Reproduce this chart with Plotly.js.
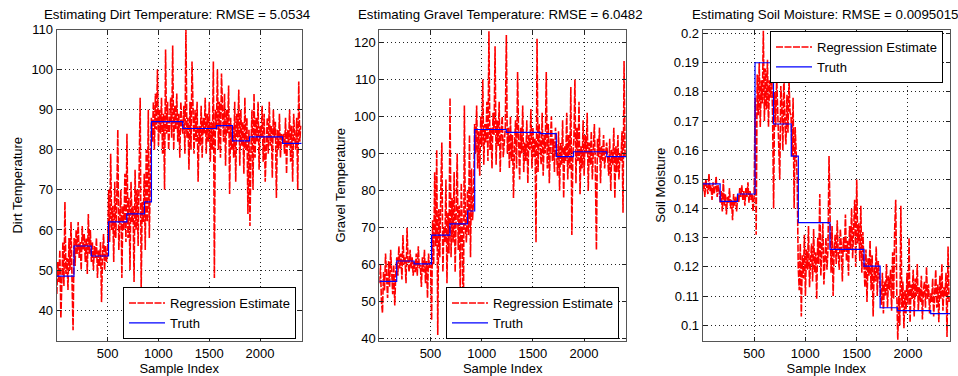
<!DOCTYPE html>
<html>
<head>
<meta charset="utf-8">
<script src="https://cdn.plot.ly/plotly-3.0.1.min.js"></script>
<style>
html,body{margin:0;padding:0;background:#fff;}
#chart{width:958px;height:376px;}
</style>
</head>
<body>
<div id="chart"></div>
<script>
// Sample index of every estimate shown (one every 10 samples)
const sampleStep = 10;

// Regression estimates (one value per 10 samples)
const dirtEstimate = [
44,52,47,55,38,50,57,46,67,49,53,45,58,50,62,47,35,
58,51,60,54,62,53,57,50,61,55,59,52,58,49,64,54,60,
52,57,50,56,53,58,48,55,51,57,42,54,59,50,56,52,55,
70,57,79,60,66,52,72,58,68,85,55,64,70,48,66,60,74,57,
84,58,68,50,72,62,66,47,75,60,70,56,80,93,45,67,62,
74,55,80,62,90,58,72,
88,82,92,80,94,85,100,81,90,84,93,79,89,70,105,84,92,80,88,93,83,106,80,91,85,94,82,89,78,92,86,
84,91,79,110,83,88,75,92,80,102,85,79,90,82,92,72,86,81,91,78,88,84,93,79,89,82,92,77,87,80,102,48,90,
85,100,80,92,78,99,86,82,94,76,90,84,96,69,88,80,
86,78,92,72,89,83,95,76,90,81,87,74,93,80,88,64,85,
61,80,90,70,94,78,88,82,92,75,86,83,91,77,89,72,84,88,79,92,81,86,73,90,83,87,68,85,80,89,78,84,82,
84,79,88,74,85,81,90,77,86,72,89,83,80,88,70,97,82,86
];

const gravelEstimate = [
55,60,50,47,58,53,63,56,51,61,54,64,57,52,60,49,58,
62,57,65,59,63,56,68,60,62,55,70,61,58,64,59,62,57,
61,58,63,57,65,59,60,54,62,58,64,55,61,51,63,59,60,
45,72,60,85,65,91,41,75,62,80,93,58,70,66,83,55,74,63,
105,62,78,66,85,58,72,90,64,76,52,82,68,40,103,70,66,
80,68,95,62,86,72,78,
98,90,103,86,96,84,100,92,110,87,98,93,104,88,123,91,97,86,101,95,119,87,99,92,104,85,96,100,89,94,97,
122,90,97,86,100,88,95,78,92,99,86,112,94,83,97,90,103,85,93,88,99,82,95,91,102,86,97,89,94,66,121,85,98,92,87,101,84,95,90,112,86,98,82,93,100,88,94,85,97,
91,84,96,80,93,87,99,78,92,88,101,83,95,86,108,68,90,
94,110,82,97,88,104,79,92,86,99,84,95,90,101,80,93,87,96,83,91,98,85,64,94,89,97,82,92,88,95,86,90,93,
89,84,94,80,91,87,97,78,92,85,95,83,90,88,96,74,115,89
];

const soilEstimate = [
0.146,0.149,0.144,0.150,0.147,0.145,0.152,0.146,0.148,0.143,0.149,0.145,0.147,0.151,0.144,0.148,0.146,
0.142,0.146,0.139,0.150,0.141,0.145,0.138,0.144,0.142,0.147,0.140,0.143,0.136,0.145,0.141,0.144,0.139,
0.145,0.142,0.147,0.144,0.148,0.143,0.146,0.141,0.147,0.144,0.149,0.142,0.146,0.143,0.145,0.139,0.144,
0.178,0.131,0.186,0.172,0.190,0.168,0.184,0.176,0.201,0.170,0.188,0.174,0.191,0.168,0.184,0.178,0.190,0.172,
0.140,0.180,0.168,0.185,0.172,0.165,0.150,0.182,0.176,0.160,0.186,0.170,0.162,0.179,0.166,0.184,0.173,
0.172,0.158,0.178,0.140,0.168,0.158,0.150,
0.120,0.112,0.128,0.103,0.124,0.116,0.131,0.110,0.126,0.119,0.134,0.113,0.122,0.128,0.115,0.133,0.118,0.125,0.109,0.130,0.121,0.145,0.117,0.127,0.135,0.114,0.124,0.130,0.119,0.126,0.158,
0.128,0.118,0.134,0.110,0.126,0.131,0.121,0.136,0.124,0.119,0.133,0.127,0.115,0.130,0.125,0.138,0.122,0.129,0.117,0.134,0.126,0.140,0.123,0.131,0.143,0.120,0.150,0.128,0.135,0.122,0.141,0.118,0.132,
0.121,0.113,0.126,0.108,0.123,0.117,0.129,0.112,0.124,0.103,0.120,0.115,0.127,0.110,0.122,0.116,
0.113,0.107,0.118,0.104,0.115,0.110,0.121,0.106,0.117,0.112,0.119,0.105,0.125,0.109,0.133,0.143,0.112,
0.095,0.110,0.100,0.141,0.106,0.115,0.099,0.112,0.104,0.118,0.107,0.130,0.101,0.114,0.109,0.119,0.103,0.116,0.110,0.121,0.105,0.113,0.108,0.117,0.102,0.112,0.115,0.106,0.120,0.109,0.114,0.104,0.111,
0.108,0.116,0.103,0.112,0.119,0.106,0.114,0.101,0.117,0.109,0.121,0.105,0.113,0.110,0.118,0.096,0.127,0.108
];

// Truth: piecewise-constant levels, starting sample of each level
const truthStart = [1,170,340,510,690,863,932,1240,1572,1729,1897,2222,2410];
const dirtTruth   = [48.5,56,53.5,62,64,67,87,85.3,86,82.2,83.2,81.6,81.6];
const gravelTruth = [55.5,61,60.2,68,71,74.5,96.5,95.7,95.4,89.2,90.5,89.2,89.2];
const soilTruth   = [0.1485,0.1425,0.145,0.19,0.169,0.158,0.1352,0.126,0.1203,0.106,0.105,0.104,0.104];

const titles = [
  'Estimating Dirt Temperature: RMSE = 5.0534',
  'Estimating Gravel Temperature: RMSE = 6.0482',
  'Estimating Soil Moisture: RMSE = 0.0095015'
];
const yTitles = ['Dirt Temperature','Gravel Temperature','Soil Moisture'];
const xTitle = 'Sample Index';
const xTicks = [500,1000,1500,2000];
const yTicks1 = [40,50,60,70,80,90,100,110];
const yTicks2 = [40,50,60,70,80,90,100,110,120];
const yTicks3 = [0.1,0.11,0.12,0.13,0.14,0.15,0.16,0.17,0.18,0.19,0.2];

const sampleX = dirtEstimate.map((_, i) => 1 + i * sampleStep);

const FONT = 'Liberation Sans, Arial, Helvetica, sans-serif';
const FS = 13;
const estLine = {color:'#ff0000', width:1.6, dash:'7px,1.5px'};
const truthLine = {color:'#0000ff', width:1.2, shape:'hv'};

const series = [
  {est: dirtEstimate, truth: dirtTruth},
  {est: gravelEstimate, truth: gravelTruth},
  {est: soilEstimate, truth: soilTruth}
];
const traces = [];
series.forEach((s, k) => {
  const sfx = k === 0 ? '' : String(k + 1);
  traces.push({x: sampleX, y: s.est, type:'scatter', mode:'lines', name:'Regression Estimate',
    line: estLine, xaxis:'x'+sfx, yaxis:'y'+sfx, legend:'legend'+sfx, hoverinfo:'skip'});
  traces.push({x: truthStart, y: s.truth, type:'scatter', mode:'lines', name:'Truth',
    line: truthLine, xaxis:'x'+sfx, yaxis:'y'+sfx, legend:'legend'+sfx, hoverinfo:'skip'});
});

const W = 958, H = 376;
const xDom = [[56.7,301.7],[379.3,626],[702.7,950]].map(d => [d[0]/W, d[1]/W]);
const yDom = [1 - 341/H, 1 - 29.5/H];
const titleCenters = [176.7, 500, 824.5];

function xAxis(i){
  return {domain: xDom[i], range:[0,2410], anchor: i===0?'y':'y'+(i+1),
    tickvals: xTicks, ticks:'inside', ticklen:4, tickcolor:'#222',
    showline:true, linecolor:'#555', linewidth:1, mirror:'ticks',
    showgrid:true, gridcolor:'#222', gridwidth:1, griddash:'1px,3px', zeroline:false,
    tickfont:{family:FONT, size:FS, color:'#000'},
    title:{text:xTitle, font:{family:FONT, size:FS, color:'#000'}, standoff:3}};
}
function yAxis(i, range, tv){
  return {domain: yDom, range: range, anchor: i===0?'x':'x'+(i+1),
    tickvals: tv, ticks:'inside', ticklen:4, tickcolor:'#222',
    showline:true, linecolor:'#555', linewidth:1, mirror:'ticks',
    showgrid:true, gridcolor:'#222', gridwidth:1, griddash:'1px,3px', zeroline:false,
    tickfont:{family:FONT, size:FS, color:'#000'},
    title:{text:yTitles[i], font:{family:FONT, size:FS, color:'#000'}, standoff:5}};
}

const legendBase = {bgcolor:'#ffffff', bordercolor:'#000', borderwidth:1,
  font:{family:FONT, size:FS, color:'#000'}, tracegroupgap:0, itemwidth:36};

const layout = {
  width: W, height: H, margin:{l:0,r:0,t:0,b:0},
  paper_bgcolor:'#fff', plot_bgcolor:'#fff', showlegend:true,
  xaxis: xAxis(0), xaxis2: xAxis(1), xaxis3: xAxis(2),
  yaxis: yAxis(0, [32.3,110], yTicks1),
  yaxis2: yAxis(1, [39.4,123.5], yTicks2),
  yaxis3: yAxis(2, [0.0946,0.2014], yTicks3),
  legend: Object.assign({x:296/W, xanchor:'right', y:1-339/H, yanchor:'bottom'}, legendBase),
  legend2: Object.assign({x:619/W, xanchor:'right', y:1-339/H, yanchor:'bottom'}, legendBase),
  legend3: Object.assign({x:943/W, xanchor:'right', y:1-31/H, yanchor:'top'}, legendBase),
  annotations: titles.map((t, i) => ({text:t, xref:'paper', yref:'paper',
    x:titleCenters[i]/W, y:1-14/H, xanchor:'center', yanchor:'middle',
    showarrow:false, font:{family:FONT, size:13.3, color:'#000'}}))
};

Plotly.newPlot('chart', traces, layout, {staticPlot:true, displayModeBar:false});
</script>
</body>
</html>
